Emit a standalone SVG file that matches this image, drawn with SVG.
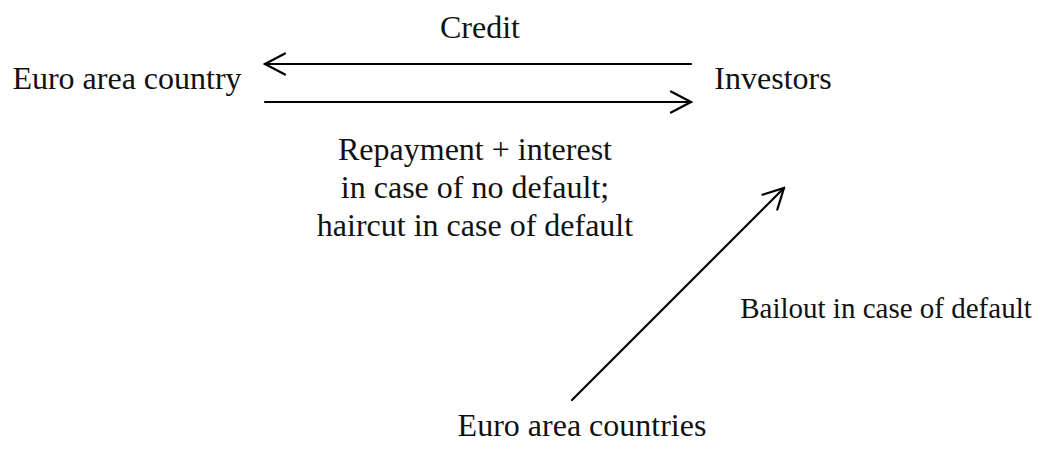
<svg xmlns="http://www.w3.org/2000/svg" width="1040" height="456" viewBox="0 0 1040 456">
<defs>
<style>
text{font-family:"Liberation Serif","Times New Roman",serif;font-size:32px;fill:#111;text-anchor:middle}
.sm{font-size:29px}
.c{stroke:#000;stroke-width:2.2;fill:none;stroke-linecap:round}
</style>
<marker id="ah" viewBox="0 0 24 24" refX="22" refY="12" markerWidth="24" markerHeight="24" markerUnits="userSpaceOnUse" orient="auto">
<path d="M2 1.5 L22 12 L2 22.5" fill="none" stroke="#000" stroke-width="2.2" stroke-linecap="round" stroke-linejoin="miter"/>
</marker>
</defs>
<rect width="1040" height="456" fill="#fff"/>
<g id="node-country"><text x="127" y="89">Euro area country</text></g>
<g id="node-investors"><text x="773" y="89">Investors</text></g>
<g id="node-countries"><text x="582" y="436">Euro area countries</text></g>
<g id="connectors">
<line class="c" x1="691" y1="64" x2="265" y2="64" marker-end="url(#ah)"/>
<line class="c" x1="265" y1="102" x2="691" y2="102" marker-end="url(#ah)"/>
<line class="c" x1="572" y1="400" x2="784" y2="188" marker-end="url(#ah)"/>
</g>
<g id="labels">
<text x="480" y="38">Credit</text>
<text x="475" y="160">Repayment + interest</text>
<text x="475" y="198">in case of no default;</text>
<text x="475" y="236">haircut in case of default</text>
<text class="sm" x="886" y="318">Bailout in case of default</text>
</g>
</svg>
